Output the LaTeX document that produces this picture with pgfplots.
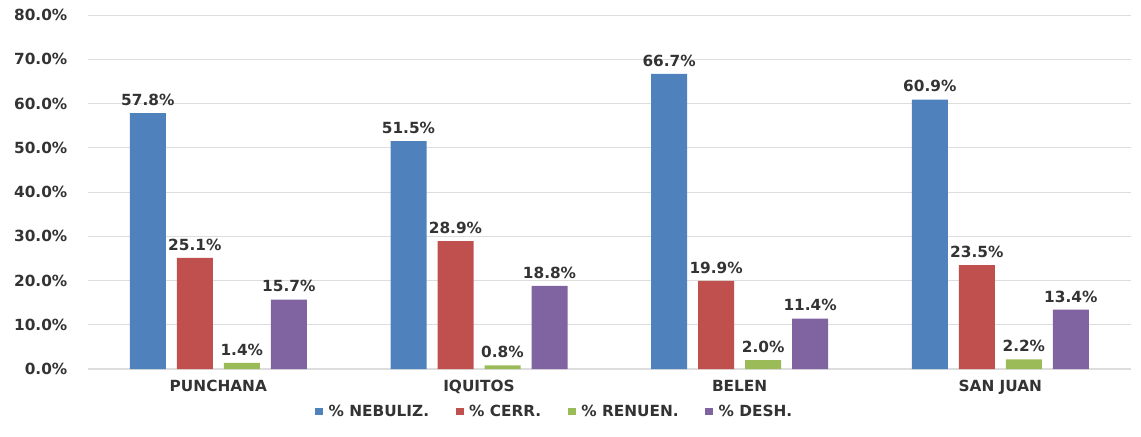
\documentclass[border=0pt]{standalone}
\usepackage{pgfplots}
\pgfplotsset{compat=1.18}
\usepackage{fontspec}
\setmainfont{DejaVu Sans}

\definecolor{cNeb}{HTML}{4F81BD}
\definecolor{cCer}{HTML}{C0504D}
\definecolor{cRen}{HTML}{9BBB59}
\definecolor{cDes}{HTML}{8064A2}
\definecolor{txt}{HTML}{333333}
\definecolor{grid}{HTML}{DDDDDD}

\newcommand{\lbl}{\fontsize{11.5}{13}\selectfont\bfseries}

\begin{document}
\begin{tikzpicture}
\begin{axis}[
    name=ax,
    at={(0,0)}, anchor=south west,
    scale only axis,
    width=782pt, height=265.5pt,
    ybar=8.25pt, bar width=27pt,
    xmin=-0.5, xmax=3.5,
    ymin=0, ymax=80,
    xtick=data,
    xticklabels={PUNCHANA,IQUITOS,BELEN,SAN JUAN},
    ytick={0,10,...,80},
    yticklabel={\pgfmathprintnumber[fixed,fixed zerofill,precision=1]{\tick}\%},
    /pgf/number format/assume math mode=true,
    tick label style={font=\lbl, text=txt},
    xticklabel style={yshift=-5pt},
    yticklabel style={xshift=-12pt},
    major tick length=0pt,
    axis x line*=bottom,
    axis y line*=left,
    y axis line style={draw=none},
    x axis line style={draw=grid, line width=0.8pt},
    ymajorgrids,
    grid style={draw=grid, line width=0.7pt},
    every axis plot/.append style={draw=none},
    nodes near coords={\pgfmathprintnumber[fixed,fixed zerofill,precision=1]{\pgfplotspointmeta}\%},
    nodes near coords style={font=\lbl, text=txt, yshift=2pt},
    legend style={at={(0.448,-0.121)}, anchor=center, draw=none,
      legend columns=-1, font=\lbl, text=txt,
      /tikz/every odd column/.append style={column sep=2pt},
      /tikz/every even column/.append style={column sep=18pt}},
    legend image code/.code={\fill[#1] (0pt,-2.5pt) rectangle (6pt,3pt);},
    clip=false,
]
\addplot[fill=cNeb] coordinates {(0,57.8) (1,51.5) (2,66.7) (3,60.9)};
\addplot[fill=cCer] coordinates {(0,25.1) (1,28.9) (2,19.9) (3,23.5)};
\addplot[fill=cRen] coordinates {(0,1.4) (1,0.8) (2,2.0) (3,2.2)};
\addplot[fill=cDes] coordinates {(0,15.7) (1,18.8) (2,11.4) (3,13.4)};
\legend{\% NEBULIZ., \% CERR., \% RENUEN., \% DESH.}
\end{axis}
\pgfresetboundingbox
\path (-66pt,-50.25pt) rectangle (789.75pt,276.75pt);
\end{tikzpicture}
\end{document}
